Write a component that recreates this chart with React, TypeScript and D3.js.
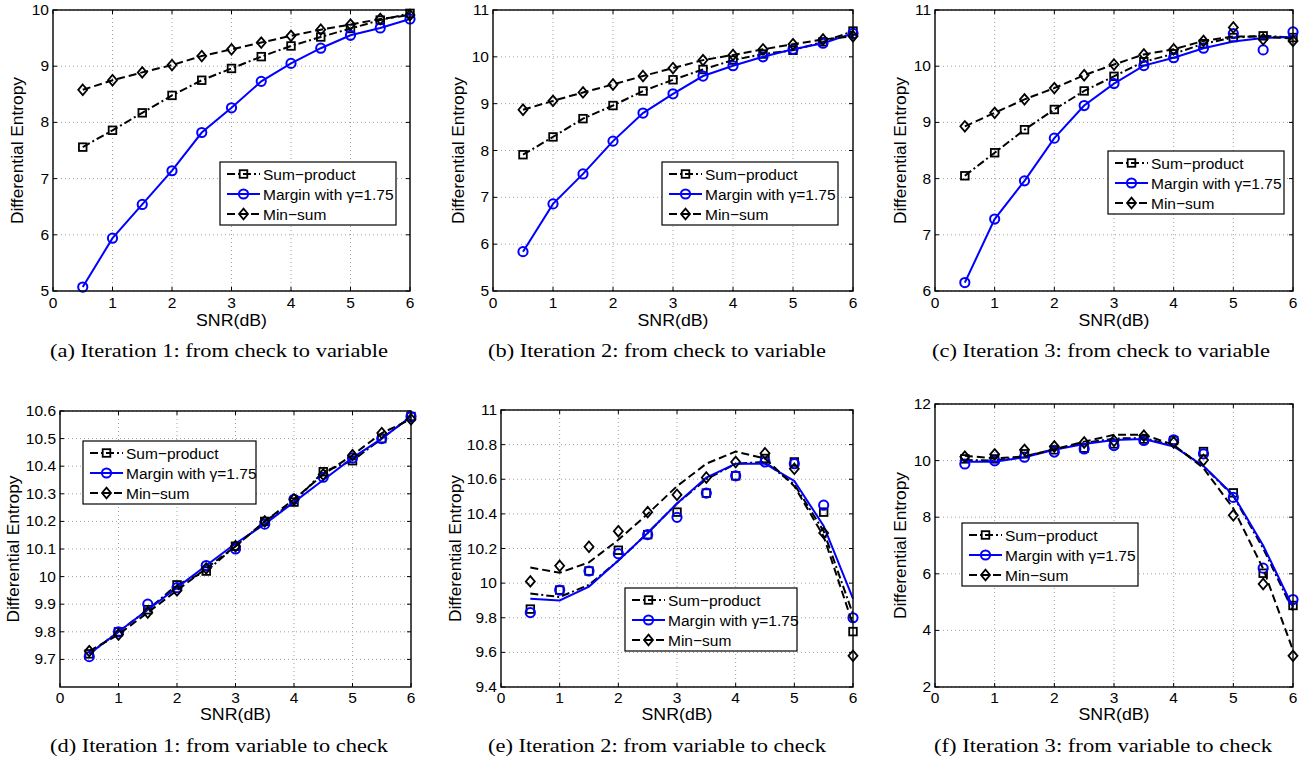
import React from 'react';
import * as d3 from 'd3';

// SNR grid shared by all six panels
const snr = [0.5, 1, 1.5, 2, 2.5, 3, 3.5, 4, 4.5, 5, 5.5, 6];
const xTicks = [0, 1, 2, 3, 4, 5, 6];
const seriesNames = ['Sum\u2212product', 'Margin with \u03b3=1.75', 'Min\u2212sum'];

// (a) iteration 1, check -> variable
const aSumProduct = [7.56, 7.86, 8.17, 8.48, 8.75, 8.96, 9.17, 9.36, 9.52, 9.67, 9.82, 9.94];
const aMargin = [5.07, 5.94, 6.54, 7.14, 7.82, 8.26, 8.73, 9.05, 9.32, 9.55, 9.68, 9.84];
const aMinSum = [8.58, 8.75, 8.89, 9.02, 9.18, 9.3, 9.42, 9.54, 9.65, 9.74, 9.84, 9.91];
const aYTicks = [5, 6, 7, 8, 9, 10];

// (b) iteration 2, check -> variable
const bSumProduct = [7.91, 8.29, 8.68, 8.96, 9.27, 9.51, 9.73, 9.93, 10.06, 10.14, 10.32, 10.55];
const bMargin = [5.84, 6.86, 7.5, 8.2, 8.8, 9.21, 9.59, 9.81, 10.0, 10.16, 10.29, 10.5];
const bMinSum = [8.87, 9.06, 9.24, 9.41, 9.59, 9.76, 9.93, 10.04, 10.16, 10.27, 10.37, 10.44];
const bYTicks = [5, 6, 7, 8, 9, 10, 11];

// (c) iteration 3, check -> variable
const cSumProduct = [8.05, 8.46, 8.87, 9.23, 9.56, 9.82, 10.08, 10.22, 10.4, 10.51, 10.54, 10.51];
const cMarginMarks = [6.15, 7.28, 7.96, 8.72, 9.3, 9.69, 10.01, 10.15, 10.32, 10.58, 10.29, 10.61];
const cMarginLine = [6.15, 7.28, 7.96, 8.72, 9.3, 9.69, 10.01, 10.15, 10.32, 10.44, 10.5, 10.52];
const cMinSumMarks = [8.93, 9.17, 9.41, 9.61, 9.84, 10.03, 10.21, 10.3, 10.45, 10.69, 10.48, 10.45];
const cMinSumLine = [8.93, 9.17, 9.41, 9.61, 9.84, 10.03, 10.21, 10.3, 10.45, 10.53, 10.53, 10.49];
const cYTicks = [6, 7, 8, 9, 10, 11];

// (d) iteration 1, variable -> check
const dSumProduct = [9.72, 9.8, 9.88, 9.97, 10.02, 10.11, 10.2, 10.27, 10.38, 10.42, 10.5, 10.58];
const dMarginMarks = [9.71, 9.8, 9.9, 9.96, 10.04, 10.1, 10.19, 10.28, 10.36, 10.43, 10.5, 10.58];
const dMarginLine = [9.72, 9.8, 9.88, 9.96, 10.04, 10.12, 10.19, 10.27, 10.35, 10.43, 10.5, 10.58];
const dMinSum = [9.73, 9.79, 9.87, 9.95, 10.03, 10.11, 10.2, 10.28, 10.37, 10.44, 10.52, 10.57];
const dYTicks = [9.7, 9.8, 9.9, 10, 10.1, 10.2, 10.3, 10.4, 10.5, 10.6];

// (e) iteration 2, variable -> check
const eSumProductMarks = [9.85, 9.96, 10.07, 10.19, 10.28, 10.41, 10.52, 10.62, 10.72, 10.7, 10.41, 9.72];
const eSumProductLine = [9.94, 9.92, 9.99, 10.13, 10.29, 10.46, 10.6, 10.69, 10.7, 10.57, 10.3, 9.82];
const eMarginMarks = [9.83, 9.96, 10.07, 10.17, 10.28, 10.38, 10.52, 10.62, 10.7, 10.69, 10.45, 9.8];
const eMarginLine = [9.91, 9.9, 9.98, 10.13, 10.29, 10.46, 10.61, 10.69, 10.69, 10.59, 10.33, 9.91];
const eMinSumMarks = [10.01, 10.1, 10.21, 10.3, 10.41, 10.51, 10.61, 10.7, 10.75, 10.66, 10.29, 9.58];
const eMinSumLine = [10.09, 10.06, 10.12, 10.25, 10.4, 10.56, 10.69, 10.76, 10.72, 10.56, 10.27, 9.76];
const eYTicks = [9.4, 9.6, 9.8, 10, 10.2, 10.4, 10.6, 10.8, 11];

// (f) iteration 3, variable -> check
const fSumProductMarks = [10.06, 10.06, 10.24, 10.38, 10.44, 10.59, 10.76, 10.71, 10.32, 8.86, 6.02, 4.88];
const fSumProductLine = [10.02, 10.0, 10.15, 10.4, 10.62, 10.78, 10.8, 10.52, 9.8, 8.75, 6.9, 4.7];
const fMarginMarks = [9.88, 9.99, 10.12, 10.3, 10.41, 10.53, 10.71, 10.73, 10.24, 8.7, 6.2, 5.09];
const fMarginLine = [9.96, 9.96, 10.12, 10.38, 10.59, 10.73, 10.76, 10.5, 9.81, 8.78, 7.0, 4.82];
const fMinSumMarks = [10.14, 10.22, 10.38, 10.5, 10.64, 10.7, 10.88, 10.64, 10.02, 8.07, 5.64, 3.1];
const fMinSumLine = [10.17, 10.08, 10.14, 10.4, 10.67, 10.91, 10.91, 10.56, 9.73, 8.31, 6.18, 3.3];
const fYTicks = [2, 4, 6, 8, 10, 12];

const captions = [
  '(a) Iteration 1: from check to variable',
  '(b) Iteration 2: from check to variable',
  '(c) Iteration 3: from check to variable',
  '(d) Iteration 1: from variable to check',
  '(e) Iteration 2: from variable to check',
  '(f) Iteration 3: from variable to check',
];

const SANS = '"Liberation Sans", Arial, Helvetica, sans-serif';
const SERIF = '"Liberation Serif", "Times New Roman", serif';
const BLUE = '#0000ff';

// layout of each panel (frame box, legend, label positions)
const panels = [
  { box: { l: 53, r: 410, t: 10, b: 291 }, yDomain: [5, 10], yTicks: aYTicks, legend: [220, 162, 176], yLabelX: 17, row: 0, capX: 219,
    lines: [aSumProduct, aMargin, aMinSum], marks: [aSumProduct, aMargin, aMinSum] },
  { box: { l: 493, r: 853, t: 10, b: 291 }, yDomain: [5, 11], yTicks: bYTicks, legend: [662, 162, 176], yLabelX: 458, row: 0, capX: 657,
    lines: [bSumProduct, bMargin, bMinSum], marks: [bSumProduct, bMargin, bMinSum] },
  { box: { l: 935, r: 1293, t: 10, b: 291 }, yDomain: [6, 11], yTicks: cYTicks, legend: [1108, 151, 176], yLabelX: 900, row: 0, capX: 1101,
    lines: [cSumProduct, cMarginLine, cMinSumLine], marks: [cSumProduct, cMarginMarks, cMinSumMarks] },
  { box: { l: 60, r: 411, t: 411, b: 687 }, yDomain: [9.6, 10.6], yTicks: dYTicks, legend: [83, 441, 173], yLabelX: 13, row: 1, capX: 219,
    lines: [dSumProduct, dMarginLine, dMinSum], marks: [dSumProduct, dMarginMarks, dMinSum] },
  { box: { l: 501, r: 853, t: 410, b: 687 }, yDomain: [9.4, 11], yTicks: eYTicks, legend: [625, 588, 172], yLabelX: 455, row: 1, capX: 657,
    lines: [eSumProductLine, eMarginLine, eMinSumLine], marks: [eSumProductMarks, eMarginMarks, eMinSumMarks] },
  { box: { l: 935, r: 1293, t: 404, b: 687 }, yDomain: [2, 12], yTicks: fYTicks, legend: [962, 523, 176], yLabelX: 900, row: 1, capX: 1103,
    lines: [fSumProductLine, fMarginLine, fMinSumLine], marks: [fSumProductMarks, fMarginMarks, fMinSumMarks] },
];

const rowText = [
  { tick: 308, xlabel: 326, caption: 357 },
  { tick: 703, xlabel: 720, caption: 752 },
];

const styles = [
  { color: '#000', dash: '8,3,2,3', marker: 'square' },
  { color: BLUE, dash: undefined, marker: 'circle' },
  { color: '#000', dash: '8,4', marker: 'diamond' },
];

function Marker({ kind, x, y, color }: { kind: string; x: number; y: number; color: string }) {
  if (kind === 'square')
    return <rect x={x - 3.8} y={y - 3.8} width={7.6} height={7.6} fill="none" stroke={color} strokeWidth={1.8} />;
  if (kind === 'circle') return <circle cx={x} cy={y} r={4.6} fill="none" stroke={color} strokeWidth={2} />;
  return (
    <path
      d={`M${x},${y - 5.3}L${x + 4.5},${y}L${x},${y + 5.3}L${x - 4.5},${y}Z`}
      fill="none"
      stroke={color}
      strokeWidth={1.8}
    />
  );
}

const fmt = (v: number) => String(+v.toFixed(1));

function Panel({ p, caption }: { p: any; caption: string }) {
  const { box } = p;
  const x = d3.scaleLinear().domain([0, 6]).range([box.l, box.r]);
  const y = d3.scaleLinear().domain(p.yDomain).range([box.b, box.t]);
  const line = d3
    .line<number>()
    .x((_, i) => x(snr[i]))
    .y((d) => y(d));
  const rt = rowText[p.row];
  const [lx, ly, lw] = p.legend;
  const cx = (box.l + box.r) / 2;
  const cy = (box.t + box.b) / 2;

  return (
    <g>
      {/* grid */}
      {xTicks.slice(1, -1).map((t) => (
        <line key={'gx' + t} x1={x(t)} x2={x(t)} y1={box.t} y2={box.b} stroke="#a0a0a0" strokeWidth={1} strokeDasharray="1,3" />
      ))}
      {p.yTicks.map((t: number) => (
        <line key={'gy' + t} x1={box.l} x2={box.r} y1={y(t)} y2={y(t)} stroke="#a0a0a0" strokeWidth={1} strokeDasharray="1,3" />
      ))}
      {/* ticks inside frame */}
      {xTicks.map((t) => (
        <g key={'tx' + t}>
          <line x1={x(t)} x2={x(t)} y1={box.b} y2={box.b - 4} stroke="#000" />
          <line x1={x(t)} x2={x(t)} y1={box.t} y2={box.t + 4} stroke="#000" />
          <text x={x(t)} y={rt.tick} fontSize={15.5} fontFamily={SANS} textAnchor="middle">
            {t}
          </text>
        </g>
      ))}
      {p.yTicks.map((t: number) => (
        <g key={'ty' + t}>
          <line x1={box.l} x2={box.l + 4} y1={y(t)} y2={y(t)} stroke="#000" />
          <line x1={box.r} x2={box.r - 4} y1={y(t)} y2={y(t)} stroke="#000" />
          <text x={box.l - 4} y={y(t) + 5} fontSize={15.5} fontFamily={SANS} textAnchor="end">
            {fmt(t)}
          </text>
        </g>
      ))}
      {/* series */}
      {styles.map((s, k) => (
        <g key={'s' + k}>
          <path d={line(p.lines[k]) || ''} fill="none" stroke={s.color} strokeWidth={2} strokeDasharray={s.dash} />
          {p.marks[k].map((v: number, i: number) => (
            <Marker key={i} kind={s.marker} x={x(snr[i])} y={y(v)} color={s.color} />
          ))}
        </g>
      ))}
      {/* frame */}
      <rect x={box.l} y={box.t} width={box.r - box.l} height={box.b - box.t} fill="none" stroke="#000" strokeWidth={1.4} />
      {/* legend */}
      <rect x={lx} y={ly} width={lw} height={63} fill="#fff" stroke="#000" strokeWidth={1.2} />
      {styles.map((s, k) => {
        const ry = ly + 12 + k * 20;
        return (
          <g key={'l' + k}>
            <line x1={lx + 7} x2={lx + 40} y1={ry} y2={ry} stroke={s.color} strokeWidth={2} strokeDasharray={s.dash} />
            <Marker kind={s.marker} x={lx + 23.5} y={ry} color={s.color} />
            <text x={lx + 43} y={ry + 5.5} fontSize={15.5} fontFamily={SANS}>
              {seriesNames[k]}
            </text>
          </g>
        );
      })}
      {/* axis labels */}
      <text x={cx} y={rt.xlabel} fontSize={17} fontFamily={SANS} textAnchor="middle" textLength={71} lengthAdjust="spacingAndGlyphs">
        SNR(dB)
      </text>
      <text
        transform={`translate(${p.yLabelX + 6},${cy}) rotate(-90)`}
        fontSize={17}
        fontFamily={SANS}
        textAnchor="middle"
        textLength={147}
        lengthAdjust="spacingAndGlyphs"
      >
        Differential Entropy
      </text>
      {/* caption */}
      <text x={p.capX} y={rt.caption} fontSize={18.5} fontFamily={SERIF} textAnchor="middle" textLength={338} lengthAdjust="spacingAndGlyphs">
        {caption}
      </text>
    </g>
  );
}

export default function App() {
  return (
    <svg width={1309} height={762} style={{ position: 'absolute', left: 0, top: 0, background: '#fff' }}>
      <rect width={1309} height={762} fill="#fff" />
      {panels.map((p, i) => (
        <Panel key={i} p={p} caption={captions[i]} />
      ))}
    </svg>
  );
}
